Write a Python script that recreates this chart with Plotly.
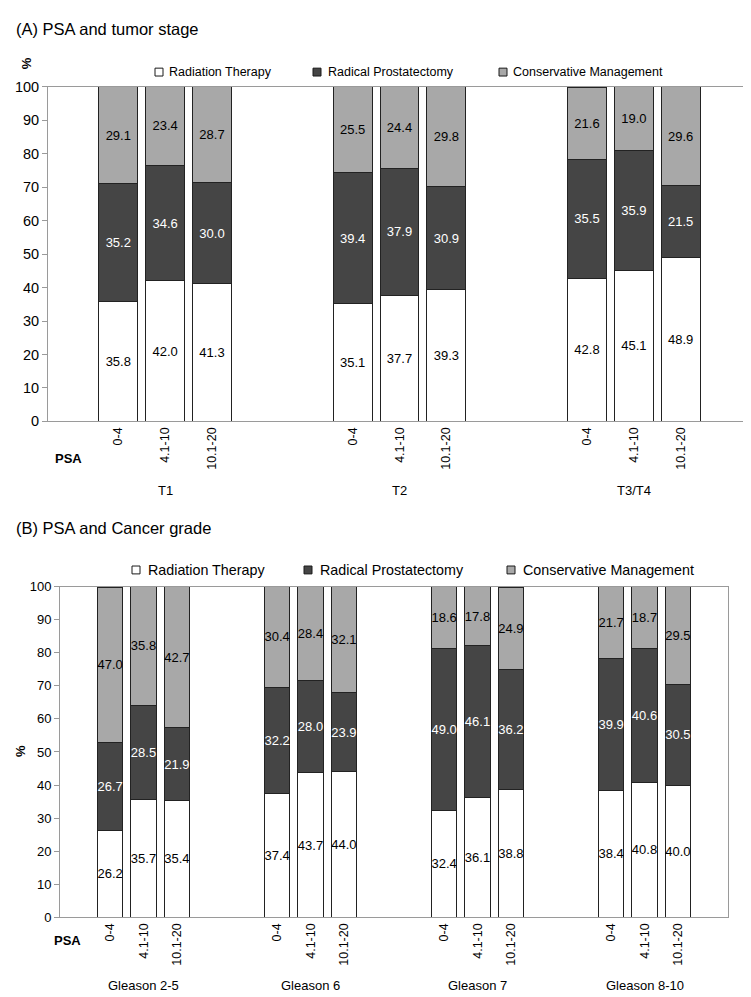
import plotly.graph_objects as go

W, H = 751, 997

# ---------------- data ----------------
psa_levels = ["0-4", "4.1-10", "10.1-20"]
stages = ["T1", "T2", "T3/T4"]
grades = ["Gleason 2-5", "Gleason 6", "Gleason 7", "Gleason 8-10"]
series = ["Radiation Therapy", "Radical Prostatectomy", "Conservative Management"]

# Panel A: PSA and tumor stage (T1 x3, T2 x3, T3/T4 x3)
a_rt = [35.8, 42.0, 41.3, 35.1, 37.7, 39.3, 42.8, 45.1, 48.9]
a_rp = [35.2, 34.6, 30.0, 39.4, 37.9, 30.9, 35.5, 35.9, 21.5]
a_cm = [29.1, 23.4, 28.7, 25.5, 24.4, 29.8, 21.6, 19.0, 29.6]

# Panel B: PSA and Cancer grade (Gleason 2-5, 6, 7, 8-10; x3 each)
b_rt = [26.2, 35.7, 35.4, 37.4, 43.7, 44.0, 32.4, 36.1, 38.8, 38.4, 40.8, 40.0]
b_rp = [26.7, 28.5, 21.9, 32.2, 28.0, 23.9, 49.0, 46.1, 36.2, 39.9, 40.6, 30.5]
b_cm = [47.0, 35.8, 42.7, 30.4, 28.4, 32.1, 18.6, 17.8, 24.9, 21.7, 18.7, 29.5]

y_ticks = [0, 10, 20, 30, 40, 50, 60, 70, 80, 90, 100]

# ---------------- styling ----------------
FONT = "Arial, Liberation Sans, sans-serif"
fills = ["#ffffff", "#454545", "#a8a8a8"]
txtcol = ["#000000", "#ffffff", "#000000"]
AXC = "#9a9a9a"
STRIDE = 5  # slots per group (3 bars + 2 empty)


def px_x(p):
    return p / W


def px_y(p):
    return 1 - p / H


def positions(n_groups):
    return [g * STRIDE + i for g in range(n_groups) for i in range(3)]


fig = go.Figure()

panels = [
    dict(vals=[a_rt, a_rp, a_cm], groups=stages, xa="x", ya="y", width=0.83),
    dict(vals=[b_rt, b_rp, b_cm], groups=grades, xa="x2", ya="y2", width=0.75),
]

for p in panels:
    xs = positions(len(p["groups"]))
    for k, vals in enumerate(p["vals"]):
        fig.add_trace(go.Bar(
            x=xs, y=vals, name=series[k], xaxis=p["xa"], yaxis=p["ya"],
            width=p["width"],
            marker=dict(color=fills[k], line=dict(color="#222222", width=1)),
            text=[f"{v:.1f}" for v in vals],
            textposition="inside", insidetextanchor="middle", textangle=0,
            insidetextfont=dict(color=txtcol[k], size=13, family=FONT),
            constraintext="none",
            showlegend=False, hoverinfo="skip",
        ))

common_x = dict(
    tickmode="array", tickangle=-90, ticks="",
    showline=True, linecolor=AXC, linewidth=1, mirror=True,
    showgrid=False, zeroline=False,
    tickfont=dict(size=12.5, family=FONT, color="#000"),
)
common_y = dict(
    range=[0, 100], tickvals=y_ticks, ticks="outside", ticklen=5, tickcolor=AXC,
    showline=True, linecolor=AXC, linewidth=1, mirror=True,
    showgrid=False, zeroline=False,
)

xsA = positions(len(stages))
xsB = positions(len(grades))

fig.update_layout(
    width=W, height=H,
    margin=dict(l=0, r=0, t=0, b=0),
    paper_bgcolor="white", plot_bgcolor="white",
    barmode="stack",
    uniformtext=dict(minsize=13, mode="show"),
    font=dict(family=FONT, color="#000"),
    xaxis=dict(common_x, domain=[px_x(40), px_x(743)], range=[-1.5, 13.5],
               tickvals=xsA, ticktext=psa_levels * len(stages), anchor="y"),
    yaxis=dict(common_y, domain=[px_y(412), px_y(72)], anchor="x",
               tickfont=dict(size=14.5, family=FONT, color="#000")),
    xaxis2=dict(common_x, domain=[px_x(52), px_x(720)], range=[-1.5, 18.5],
                tickvals=xsB, ticktext=psa_levels * len(grades), anchor="y2"),
    yaxis2=dict(common_y, domain=[px_y(916), px_y(580)], anchor="x2",
                tickfont=dict(size=13, family=FONT, color="#000")),
)

ann = []
# titles
ann.append(dict(text="(A) PSA and tumor stage", x=px_x(6), y=px_y(13), xref="paper", yref="paper",
                xanchor="left", yanchor="middle", showarrow=False, font=dict(size=16.5, family=FONT)))
ann.append(dict(text="(B) PSA and Cancer grade", x=px_x(6), y=px_y(520), xref="paper", yref="paper",
                xanchor="left", yanchor="middle", showarrow=False, font=dict(size=16.5, family=FONT)))
# % labels
ann.append(dict(text="<b>%</b>", x=px_x(18), y=px_y(48), xref="paper", yref="paper", textangle=-90,
                xanchor="center", yanchor="middle", showarrow=False, font=dict(size=13, family=FONT)))
ann.append(dict(text="<b>%</b>", x=px_x(12), y=px_y(747), xref="paper", yref="paper", textangle=-90,
                xanchor="center", yanchor="middle", showarrow=False, font=dict(size=13, family=FONT)))
# PSA labels
ann.append(dict(text="<b>PSA</b>", x=px_x(60), y=px_y(450), xref="paper", yref="paper",
                xanchor="center", yanchor="middle", showarrow=False, font=dict(size=13, family=FONT)))
ann.append(dict(text="<b>PSA</b>", x=px_x(59), y=px_y(940), xref="paper", yref="paper",
                xanchor="center", yanchor="middle", showarrow=False, font=dict(size=13, family=FONT)))
# group labels
for g, name in enumerate(stages):
    ann.append(dict(text=name, x=g * STRIDE + 1, y=px_y(482), xref="x", yref="paper",
                    xanchor="center", yanchor="middle", showarrow=False, font=dict(size=13, family=FONT)))
for g, name in enumerate(grades):
    ann.append(dict(text=name, x=g * STRIDE + 1, y=px_y(985), xref="x2", yref="paper",
                    xanchor="center", yanchor="middle", showarrow=False, font=dict(size=13, family=FONT)))

# legends (manual)
shapes = []
legA = [(147, 159), (305, 318), (491, 503)]
legB = [(124, 138), (296, 310), (499, 513)]
for (sq, tx), k in zip(legA, range(3)):
    shapes.append(dict(type="rect", xref="paper", yref="paper",
                       x0=px_x(sq), x1=px_x(sq + 8), y0=px_y(61), y1=px_y(53),
                       fillcolor=fills[k], line=dict(color="#1a1a1a", width=1)))
    ann.append(dict(text=series[k], x=px_x(tx), y=px_y(57), xref="paper", yref="paper",
                    xanchor="left", yanchor="middle", showarrow=False, font=dict(size=12.5, family=FONT)))
for (sq, tx), k in zip(legB, range(3)):
    shapes.append(dict(type="rect", xref="paper", yref="paper",
                       x0=px_x(sq), x1=px_x(sq + 8), y0=px_y(567), y1=px_y(559),
                       fillcolor=fills[k], line=dict(color="#1a1a1a", width=1)))
    ann.append(dict(text=series[k], x=px_x(tx), y=px_y(563), xref="paper", yref="paper",
                    xanchor="left", yanchor="middle", showarrow=False, font=dict(size=14.3, family=FONT)))

fig.update_layout(annotations=ann, shapes=shapes)

fig.write_html("out.html")
